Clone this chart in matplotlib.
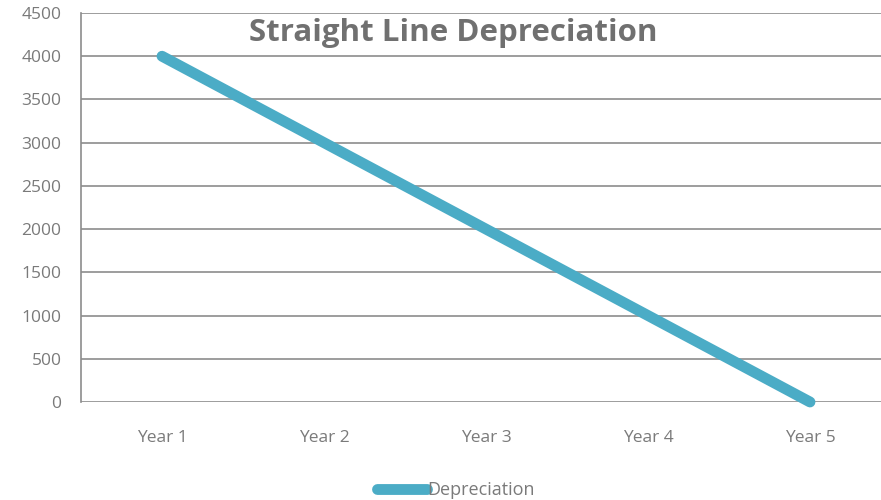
import matplotlib
matplotlib.use("Agg")
import matplotlib.pyplot as plt
import numpy as np

# chart data
years = ["Year 1", "Year 2", "Year 3", "Year 4", "Year 5"]
depreciation = [4000, 3000, 2000, 1000, 0]
y_ticks = [0, 500, 1000, 1500, 2000, 2500, 3000, 3500, 4000, 4500]

plt.rcParams['font.family'] = ['Open Sans', 'DejaVu Sans']

W, H = 881, 500
fig = plt.figure(figsize=(W / 100, H / 100), dpi=100)
# plot area runs past the right edge, like the cropped original
ax = fig.add_axes([81 / W, 1 - 402 / H, 810 / W, 389 / H])

x = np.arange(1, len(years) + 1)
line, = ax.plot(x, depreciation, color="#4BACC6", lw=7.8, solid_capstyle="round",
                label="Depreciation", clip_on=False)

ax.set_xlim(0.5, 5.5)
ax.set_ylim(0, 4500)
ax.set_yticks(y_ticks)
ax.set_xticks(x)
ax.set_xticklabels(years)
ax.yaxis.grid(True, color="#8c8c8c", lw=1.2)
ax.set_axisbelow(True)
for s in ["top", "right", "bottom"]:
    ax.spines[s].set_visible(False)
ax.spines["left"].set_color("#8c8c8c")
ax.spines["left"].set_linewidth(1.2)
ax.tick_params(axis="both", length=0, colors="#7a7a7a", labelsize=12.5)
ax.tick_params(axis="y", pad=14)
ax.tick_params(axis="x", pad=20)

fig.text(453 / W, 1 - 33 / H, "Straight Line Depreciation", ha="center", va="center",
         fontsize=22.5, fontweight="bold", color="#707070")

leg = fig.legend(handles=[line], loc="center", bbox_to_anchor=(456 / W, 1 - 490 / H),
                 frameon=False, fontsize=13, handlelength=2.75, handletextpad=0.0,
                 labelcolor="#7a7a7a")

fig.savefig("out.png", dpi=100)
